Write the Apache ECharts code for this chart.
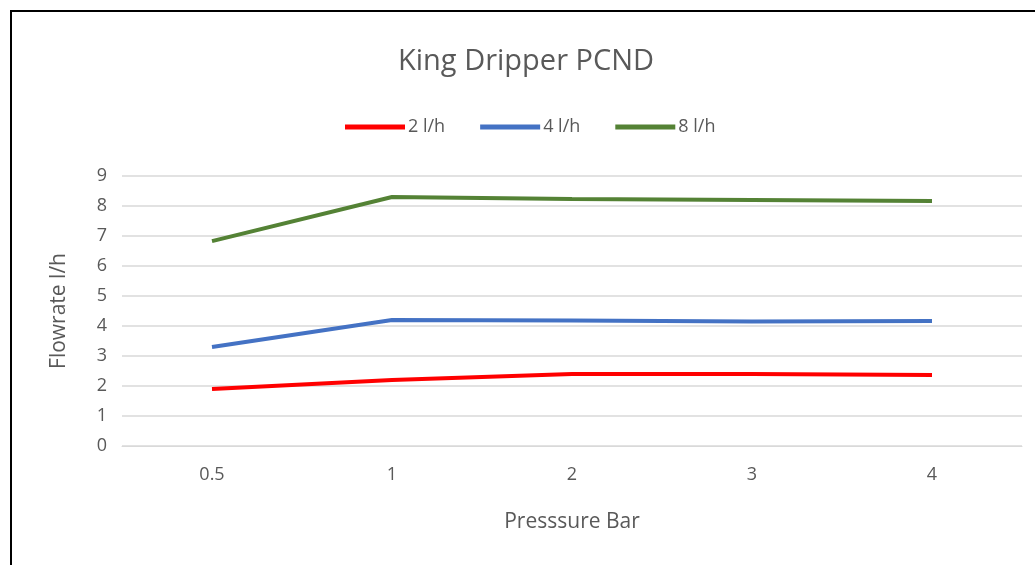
<!DOCTYPE html>
<html>
<head>
<meta charset="utf-8">
<script src="https://cdn.jsdelivr.net/npm/echarts@6/dist/echarts.min.js"></script>
<style>html,body{margin:0;padding:0;background:#fff}#c{width:1035px;height:565px}</style>
</head>
<body>
<div id="c"></div>
<script>
const categories = ['0.5', '1', '2', '3', '4'];
const seriesNames = ['2 l/h', '4 l/h', '8 l/h'];
const flow2 = [1.9, 2.2, 2.4, 2.4, 2.37];
const flow4 = [3.3, 4.2, 4.18, 4.15, 4.17];
const flow8 = [6.83, 8.3, 8.23, 8.2, 8.17];
const colors = ['#FF0000', '#4472C4', '#548235'];
const font = 'Open Sans';

const chart = echarts.init(document.getElementById('c'));
const mk = (name, data, color) => ({
  name, type: 'line', data, symbol: 'none', smooth: false,
  lineStyle: { width: 4, color }, itemStyle: { color }
});
chart.setOption({
  animation: false,
  textStyle: { fontFamily: font },
  title: {
    text: 'King Dripper PCND', left: 393, top: 42,
    textStyle: { fontSize: 29, fontWeight: 'normal', color: '#595959', fontFamily: font }
  },
  legend: {
    top: 113, left: 340, icon: 'rect', itemWidth: 60, itemHeight: 5, itemGap: 35,
    textStyle: { fontSize: 18, color: '#595959', padding: [0, 0, 0, -2] },
    data: seriesNames
  },
  graphic: [{
    type: 'rect', shape: { x: 11, y: 11, width: 1040, height: 570 },
    style: { fill: 'none', stroke: '#000', lineWidth: 2 }, silent: true
  }],
  grid: { left: 122, right: 13, top: 176, bottom: 119 },
  xAxis: {
    type: 'category', data: categories, boundaryGap: true,
    axisLine: { show: true, lineStyle: { color: '#d9d9d9' } },
    axisTick: { show: false },
    axisLabel: { fontSize: 18, color: '#595959', margin: 20 },
    name: 'Presssure Bar', nameLocation: 'middle', nameGap: 66,
    nameTextStyle: { fontSize: 21, color: '#595959' }
  },
  yAxis: {
    type: 'value', min: 0, max: 9, interval: 1,
    axisLine: { show: false }, axisTick: { show: false },
    axisLabel: { fontSize: 18, color: '#595959', margin: 15 },
    splitLine: { lineStyle: { color: '#d9d9d9', width: 1.5 } },
    name: 'Flowrate l/h', nameLocation: 'middle', nameGap: 52, nameRotate: 90,
    nameTextStyle: { fontSize: 21, color: '#595959' }
  },
  series: [mk(seriesNames[0], flow2, colors[0]), mk(seriesNames[1], flow4, colors[1]), mk(seriesNames[2], flow8, colors[2])]
});
</script>
</body>
</html>
